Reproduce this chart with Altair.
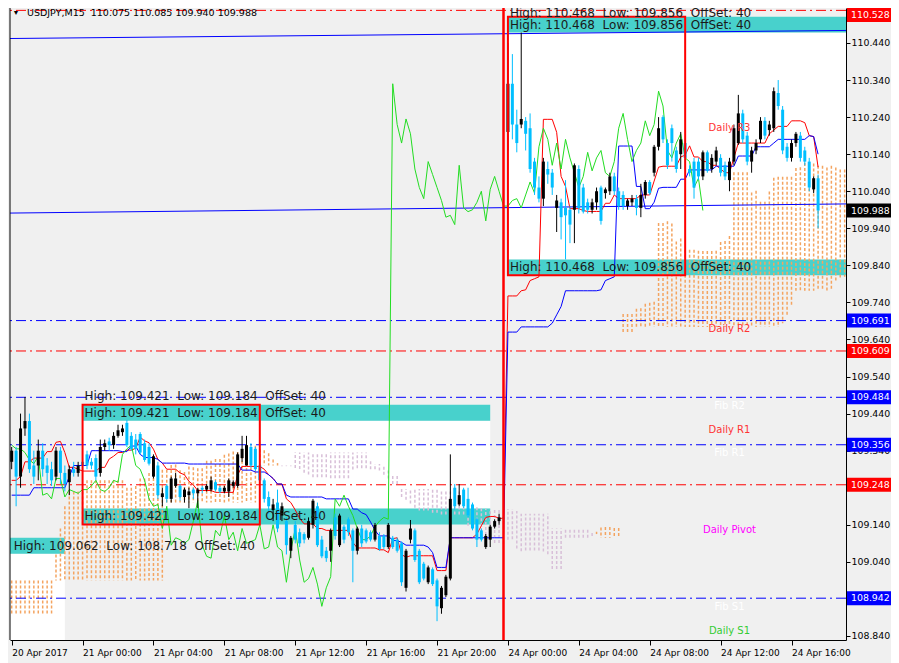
import altair as alt
import pandas as pd
import numpy as np

# ---------------- candle data (USDJPY M15), bar index 0 = 20 Apr 20:00 ----------------
opens = [
 109.31,109.34,109.27,109.40,109.42,109.30,109.30,109.34,109.30,109.29,
 109.27,109.34,109.28,109.255,109.29,109.28,109.31,109.33,109.31,109.32,
 109.28,109.35,109.365,109.355,109.38,109.39,109.415,109.38,109.37,109.385,
 109.36,109.35,109.27,109.30,109.215,109.245,109.21,109.245,109.245,109.215,
 109.22,109.235,109.225,109.24,109.235,109.235,109.255,109.24,109.23,109.23,
 109.245,109.245,109.32,109.30,109.35,109.345,109.30,109.26,109.215,109.18,
 109.20,109.165,109.15,109.07,109.14,109.12,109.115,109.105,109.14,109.19,
 109.10,109.07,109.07,109.16,109.085,109.135,109.155,109.125,109.07,109.13,
 109.125,109.12,109.10,109.11,109.11,109.08,109.105,109.10,109.09,108.97,
 109.10,109.125,109.07,109.035,108.985,109.02,108.99,108.915,108.95,108.995,
 109.24,109.195,109.235,109.21,109.195,109.155,109.125,109.08,109.10,109.135,
 109.15,109.16,110.20,110.33,110.22,110.22,110.23,110.21,110.12,110.05,
 110.02,110.10,110.09,109.995,110.01,109.995,109.99,109.99,110.10,110.05,
 110.01,109.99,110.01,110.05,110.035,110.04,110.08,110.04,110.03,110.00,
 110.01,110.02,109.995,110.03,110.065,110.09,110.16,110.24,110.17,110.21,
 110.15,110.14,110.17,110.10,110.12,110.12,110.08,110.145,110.10,110.12,
 110.13,110.11,110.07,110.12,110.17,110.25,110.19,110.12,110.15,110.18,
 110.23,110.205,110.21,110.305,110.26,110.16,110.13,110.17,110.19,110.15,
 110.12,110.045,110.075]
highs = [
 109.35,109.35,109.44,109.485,109.44,109.34,109.37,109.36,109.32,109.31,
 109.35,109.35,109.30,109.30,109.31,109.31,109.32,109.34,109.32,109.33,
 109.37,109.37,109.375,109.39,109.41,109.41,109.423,109.39,109.385,109.39,
 109.37,109.36,109.33,109.31,109.24,109.25,109.27,109.28,109.25,109.24,
 109.24,109.24,109.24,109.245,109.25,109.27,109.26,109.245,109.245,109.265,
 109.26,109.335,109.38,109.38,109.36,109.35,109.31,109.265,109.23,109.21,
 109.235,109.20,109.16,109.11,109.15,109.13,109.12,109.16,109.21,109.20,
 109.11,109.08,109.13,109.17,109.17,109.14,109.16,109.13,109.135,109.14,
 109.13,109.125,109.145,109.12,109.115,109.145,109.11,109.105,109.095,109.075,
 109.153,109.13,109.075,109.04,109.03,109.025,108.995,108.975,109.005,109.33,
 109.25,109.25,109.24,109.24,109.20,109.16,109.13,109.115,109.14,109.155,
 109.17,109.17,110.44,110.41,110.26,110.468,110.24,110.25,110.13,110.08,
 110.13,110.12,110.10,110.03,110.02,110.07,110.00,110.115,110.11,110.06,
 110.02,110.02,110.05,110.055,110.05,110.09,110.09,110.05,110.04,110.02,
 110.03,110.03,110.06,110.07,110.07,110.165,110.24,110.245,110.18,110.22,
 110.16,110.20,110.18,110.11,110.13,110.13,110.15,110.15,110.14,110.16,
 110.14,110.12,110.13,110.22,110.30,110.26,110.20,110.16,110.18,110.24,
 110.24,110.23,110.32,110.34,110.27,110.17,110.18,110.20,110.20,110.16,
 110.13,110.08,110.085]
lows = [
 109.29,109.19,109.24,109.38,109.28,109.25,109.26,109.27,109.25,109.245,
 109.26,109.25,109.23,109.22,109.27,109.27,109.28,109.29,109.29,109.26,
 109.27,109.34,109.34,109.345,109.375,109.38,109.35,109.34,109.33,109.33,
 109.31,109.30,109.265,109.21,109.19,109.20,109.20,109.24,109.205,109.20,
 109.185,109.21,109.185,109.225,109.23,109.23,109.23,109.225,109.225,109.215,
 109.24,109.24,109.31,109.30,109.295,109.285,109.25,109.20,109.17,109.15,
 109.12,109.15,109.06,109.05,109.09,109.08,109.09,109.10,109.13,109.08,
 109.05,109.04,109.04,109.10,109.08,109.09,109.11,108.985,109.06,109.08,
 109.09,109.095,109.095,109.07,109.075,109.075,109.075,109.065,108.975,108.96,
 109.09,109.04,108.98,108.99,108.98,108.975,108.88,108.90,108.945,108.99,
 109.18,109.19,109.185,109.16,109.125,109.08,109.095,109.075,109.08,109.13,
 109.14,109.15,110.15,110.18,110.145,110.21,110.15,110.09,110.03,110.01,
 110.00,110.06,110.03,109.93,109.91,109.856,109.90,109.90,109.98,109.98,
 109.98,109.98,109.99,109.95,110.02,110.03,110.03,109.99,109.99,109.99,
 110.00,109.975,109.97,110.02,110.03,110.08,110.15,110.17,110.10,110.12,
 110.09,110.10,110.10,110.08,110.02,110.07,110.07,110.09,110.09,110.11,
 110.08,110.07,110.04,110.11,110.165,110.17,110.11,110.09,110.14,110.17,
 110.18,110.19,110.20,110.26,110.14,110.12,110.12,110.16,110.12,110.11,
 110.04,110.035,109.94]
closes = [
 109.34,109.27,109.40,109.42,109.29,109.27,109.34,109.29,109.28,109.26,
 109.34,109.28,109.25,109.29,109.28,109.30,109.30,109.30,109.30,109.27,
 109.35,109.36,109.355,109.38,109.395,109.40,109.355,109.345,109.345,109.335,
 109.315,109.305,109.325,109.22,109.225,109.21,109.265,109.265,109.215,109.235,
 109.23,109.225,109.235,109.235,109.245,109.26,109.235,109.23,109.24,109.26,
 109.255,109.33,109.345,109.355,109.30,109.29,109.26,109.21,109.19,109.195,
 109.13,109.19,109.085,109.105,109.10,109.09,109.10,109.15,109.205,109.085,
 109.055,109.05,109.125,109.11,109.165,109.10,109.12,109.07,109.13,109.09,
 109.095,109.10,109.14,109.075,109.08,109.14,109.08,109.07,108.985,109.07,
 109.13,109.045,108.985,108.995,109.025,108.98,108.92,108.97,109.00,109.21,
 109.19,109.22,109.19,109.165,109.13,109.10,109.10,109.11,109.135,109.15,
 109.16,109.155,110.33,110.22,110.17,110.235,110.195,110.10,110.05,110.02,
 110.12,110.085,110.05,110.015,109.97,109.975,109.95,110.11,109.995,109.985,
 109.99,110.01,110.04,109.96,110.045,110.08,110.04,110.00,110.00,110.015,
 110.02,109.995,110.03,110.065,110.035,110.16,110.21,110.18,110.11,110.17,
 110.10,110.18,110.13,110.09,110.05,110.08,110.145,110.095,110.13,110.15,
 110.09,110.08,110.12,110.21,110.25,110.18,110.12,110.15,110.17,110.23,
 110.19,110.22,110.31,110.27,110.15,110.13,110.17,110.195,110.13,110.12,
 110.05,110.075,109.988]

# Ichimoku values (before full look-back windows exist)
tenkan_head = [109.26, 109.26, 109.27, 109.31, 109.31, 109.32, 109.32, 109.32]
kijun_head = [109.22] * 5 + [109.24] * 8 + [109.27] + [109.30] * 4 + [109.34] * 7
span_a_head = [108.99] * 10 + [109.06, 109.13, 109.19] + [109.23] * 4 + [109.26] * 9
span_b_head = [108.90] * 10 + [108.99] * 25 + [109.20] * 21 + [109.30] * 8 + [109.335] * 13

# axes
tick_index = [0, 16, 32, 48, 64, 80, 96, 112, 128, 144, 160, 176]
tick_text = ["20 Apr 2017", "21 Apr 00:00", "21 Apr 04:00", "21 Apr 08:00", "21 Apr 12:00",
             "21 Apr 16:00", "21 Apr 20:00", "24 Apr 00:00", "24 Apr 04:00", "24 Apr 08:00",
             "24 Apr 12:00", "24 Apr 16:00"]
y_ticks = [108.84, 108.94, 109.04, 109.14, 109.24, 109.34, 109.44, 109.54, 109.64,
           109.74, 109.84, 109.94, 110.04, 110.14, 110.24, 110.34, 110.44]

# horizontal levels and price tags
level_price = [110.528, 109.691, 109.609, 109.484, 109.356, 109.248, 108.942]
level_color = ["#FF0000", "#0000FF", "#FF0000", "#0000FF", "#0000FF", "#FF0000", "#0000FF"]
tag_price = [110.528, 109.988, 109.691, 109.609, 109.484, 109.356, 109.248, 108.942]
tag_color = ["#FF0000", "#000000", "#0000FF", "#FF0000", "#0000FF", "#0000FF", "#FF0000", "#0000FF"]

# trend lines (index, price)
trend_index = [-1.0, 190.0]
trend_upper = [110.452, 110.474]
trend_lower = [109.981, 110.006]

# high/low boxes
box_start = [-1, 16, 112]
box_end = [12, 108, 190]
box_high = [109.062, 109.421, 110.468]
box_low = [108.718, 109.184, 109.856]
frame_start = [16, 112]
frame_high = [109.421, 110.468]
frame_low = [109.184, 109.856]
offset_bars = 40

pivot_names = ["Daily R3", "Daily R2", "Fib R2", "Daily R1", "Fib R1", "Daily Pivot", "Fib S1", "Daily S1"]
pivot_colors = ["#FF3333", "#FF3333", "#FFFFFF", "#FF3333", "#FFFFFF", "#FF00FF", "#FFFFFF", "#33CC33"]
pivot_price = [110.210, 109.668, 109.460, 109.396, 109.334, 109.126, 108.918, 108.853]
pivot_index = 162

separator_index = 111
title_text = "USDJPY,M15  110.075 110.085 109.940 109.988"

# ---------------- layout ----------------
FONT = "DejaVu Sans"
W, H = 836, 632
XD = [-0.38, 188.3]
YD = [108.8292, 110.5344]
PX = (YD[1] - YD[0]) / H          # price per pixel
BAND = 0.043
NB = "\u00a0"

n = len(closes)
idx = list(range(n))
candles = pd.DataFrame({"i": idx, "o": opens, "h": highs, "l": lows, "c": closes})
candles["col"] = np.where(candles["c"] >= candles["o"], "#000000", "#00BFFF")

hi = pd.Series(highs, dtype=float)
lo = pd.Series(lows, dtype=float)
tenkan = ((hi.rolling(9).max() + lo.rolling(9).min()) / 2).to_numpy()
tenkan[:len(tenkan_head)] = tenkan_head
kijun = ((hi.rolling(26).max() + lo.rolling(26).min()) / 2).to_numpy()
kijun[:len(kijun_head)] = kijun_head
mid52 = ((hi.rolling(52).max() + lo.rolling(52).min()) / 2).to_numpy()
span_a = list(span_a_head) + [(tenkan[k] + kijun[k]) / 2 for k in range(n)]
span_b = list(span_b_head) + [mid52[k] for k in range(51, n)]
cloud = pd.DataFrame({"i": list(range(len(span_a))), "a": span_a, "b": span_b})
cloud = cloud[cloud["i"] <= XD[1]].copy()
cloud["col"] = np.where(cloud["a"] >= cloud["b"], "#F4A460", "#D8BFD8")

ind = pd.DataFrame({"i": idx, "tenkan": tenkan, "kijun": kijun})
chikou = pd.DataFrame({"i": list(range(n - 26)), "v": closes[26:]})

xs = alt.Scale(domain=XD, nice=False, zero=False)
ys = alt.Scale(domain=YD, nice=False, zero=False)

label_expr = "[" + ",".join("'%s'" % t for t in tick_text) + "][round(datum.value / 16)]"
x_axis = alt.Axis(values=tick_index, labelExpr=label_expr, labelAlign="left", labelPadding=3,
                  tickSize=5, tickColor="black", domainColor="black", labelColor="black",
                  labelFont=FONT, labelFontSize=9, grid=False, title=None, labelOverlap=False,
                  labelFlush=False, labelBound=False)
y_axis = alt.Axis(orient="right", values=y_ticks, format=".3f", tickSize=4, labelPadding=1,
                  labelFont=FONT, labelFontSize=9.4, labelColor="black", domainColor="black",
                  tickColor="black", grid=False, title=None, labelOverlap=False,
                  labelFlush=False, labelBound=False)


def X(f):
    return alt.X(f, type="quantitative", scale=xs, axis=x_axis)


def Y(f):
    return alt.Y(f, type="quantitative", scale=ys, axis=y_axis)


boxes = pd.DataFrame({"s": box_start, "e": box_end, "h": box_high, "l": box_low})
white = alt.Chart(boxes).mark_rect(color="#FFFFFF", clip=True).encode(
    x=X("s"), x2=alt.X2("e"), y=Y("h"), y2=alt.Y2("l"))

bands = pd.DataFrame({
    "s": box_start + box_start, "e": box_end + box_end,
    "y1": box_high + [v - BAND for v in box_low],
    "y2": [v + BAND for v in box_high] + box_low})
teal = alt.Chart(bands).mark_rect(color="#48D1CC", clip=True).encode(
    x=X("s"), x2=alt.X2("e"), y=Y("y1"), y2=alt.Y2("y2"))

left_frame = alt.Chart(pd.DataFrame({"a": [0]})).mark_rule(color="black", strokeWidth=1).encode(
    x=alt.value(0))

kumo = alt.Chart(cloud).mark_rule(strokeDash=[3, 2], strokeWidth=1.5, clip=True).encode(
    x=X("i"), y=Y("a"), y2=alt.Y2("b"), color=alt.Color("col:N", scale=None))

levels = pd.DataFrame({"p": level_price, "col": level_color})
level_rules = alt.Chart(levels).mark_rule(strokeDash=[10, 4, 2, 4], strokeWidth=1).encode(
    y=Y("p"), color=alt.Color("col:N", scale=None))

trend = pd.DataFrame({"i": trend_index + trend_index, "p": trend_upper + trend_lower,
                      "g": ["u", "u", "l", "l"]})
trend_lines = alt.Chart(trend).mark_line(color="#0000FF", strokeWidth=1, clip=True).encode(
    x=X("i"), y=Y("p"), detail="g:N")

tenkan_line = alt.Chart(ind).mark_line(color="#FF0000", strokeWidth=1, clip=True).encode(
    x=X("i"), y=Y("tenkan"))
kijun_line = alt.Chart(ind).mark_line(color="#0000FF", strokeWidth=1, clip=True).encode(
    x=X("i"), y=Y("kijun"))
chikou_line = alt.Chart(chikou).mark_line(color="#22DD22", strokeWidth=1, clip=True).encode(
    x=X("i"), y=Y("v"))

wicks = alt.Chart(candles).mark_rule(strokeWidth=1).encode(
    x=X("i"), y=Y("l"), y2=alt.Y2("h"), color=alt.Color("col:N", scale=None))
bodies = alt.Chart(candles).mark_rule(strokeWidth=3).encode(
    x=X("i"), y=Y("o"), y2=alt.Y2("c"), color=alt.Color("col:N", scale=None))

frames = pd.DataFrame({"s": frame_start, "e": [s + offset_bars for s in frame_start],
                       "t": [v + BAND for v in frame_high], "b": [v - BAND for v in frame_low]})
frame_rects = alt.Chart(frames).mark_rect(fillOpacity=0, stroke="#FF0000", strokeWidth=2,
                                          clip=True).encode(
    x=X("s"), x2=alt.X2("e"), y=Y("t"), y2=alt.Y2("b"))

separator = alt.Chart(pd.DataFrame({"i": [separator_index]})).mark_rule(
    color="#FF0000", strokeWidth=2.5).encode(x=X("i"))


def box_label(h, l):
    return ("High: %.3f" + NB * 2 + "Low: %.3f" + NB * 2 + "OffSet: %d") % (h, l, offset_bars)


band_rows = []
for s, h, l in zip(box_start, box_high, box_low):
    xpos = max(s, 0)
    band_rows.append({"i": xpos, "p": h + BAND / 2, "t": box_label(h, l)})
    if l - BAND > YD[0]:
        band_rows.append({"i": xpos, "p": l - BAND / 2, "t": box_label(h, l)})
band_texts = alt.Chart(pd.DataFrame(band_rows)).mark_text(
    align="left", baseline="middle", dx=2, font=FONT, fontSize=12, color="#1A1A1A").encode(
    x=X("i"), y=Y("p"), text="t:N")

above_rows = []
for s, h, l in zip(frame_start, frame_high, frame_low):
    above_rows.append({"i": s, "p": min(h + 21 * PX, YD[1] - 9 * PX), "t": box_label(h, l)})
above_texts = alt.Chart(pd.DataFrame(above_rows)).mark_text(
    align="left", baseline="alphabetic", dx=2, font=FONT, fontSize=12, color="#1A1A1A").encode(
    x=X("i"), y=Y("p"), text="t:N")

pivots = pd.DataFrame({"t": pivot_names, "col": pivot_colors, "p": pivot_price,
                       "i": [pivot_index] * len(pivot_names)})
pivot_texts = alt.Chart(pivots).mark_text(align="center", baseline="middle", font=FONT,
                                          fontSize=10).encode(
    x=X("i"), y=Y("p"), text="t:N", color=alt.Color("col:N", scale=None))

title_df = pd.DataFrame({"t": [title_text.replace("  ", NB + " ")]})
title = alt.Chart(title_df).mark_text(align="left", baseline="middle", font=FONT, fontSize=9.5,
                                      color="#000000").encode(
    x=alt.value(17), y=alt.value(5), text="t:N")
tri = alt.Chart(pd.DataFrame({"t": ["\u25BC"]})).mark_text(
    align="center", baseline="middle", fontSize=7, color="#000000").encode(
    x=alt.value(6), y=alt.value(5), text="t:N")

tags = pd.DataFrame({"p": [min(v, YD[1] - 7 * PX) for v in tag_price], "col": tag_color,
                     "lab": ["%.3f" % v for v in tag_price]})
tag_rects = alt.Chart(tags).mark_rect(height=14).encode(
    x=alt.value(W + 1), x2=alt.value(W + 46), y=Y("p"), color=alt.Color("col:N", scale=None))
tag_texts = alt.Chart(tags).mark_text(align="left", baseline="middle", font=FONT, fontSize=9.4,
                                      color="#FFFFFF").encode(
    x=alt.value(W + 5), y=Y("p"), text="lab:N")

chart = alt.layer(
    white, teal, kumo, level_rules, trend_lines, tenkan_line, kijun_line, chikou_line,
    wicks, bodies, frame_rects, separator, band_texts, above_texts, pivot_texts, title, tri,
    tag_rects, tag_texts, left_frame
).properties(
    width=W, height=H,
    padding={"left": 2, "top": 0, "right": 45, "bottom": 23},
    autosize=alt.AutoSizeParams(type="none"),
).configure(background="#F0F0F0").configure_view(stroke=None)

chart.save("out.html", embed_options={"renderer": "svg", "actions": False})
